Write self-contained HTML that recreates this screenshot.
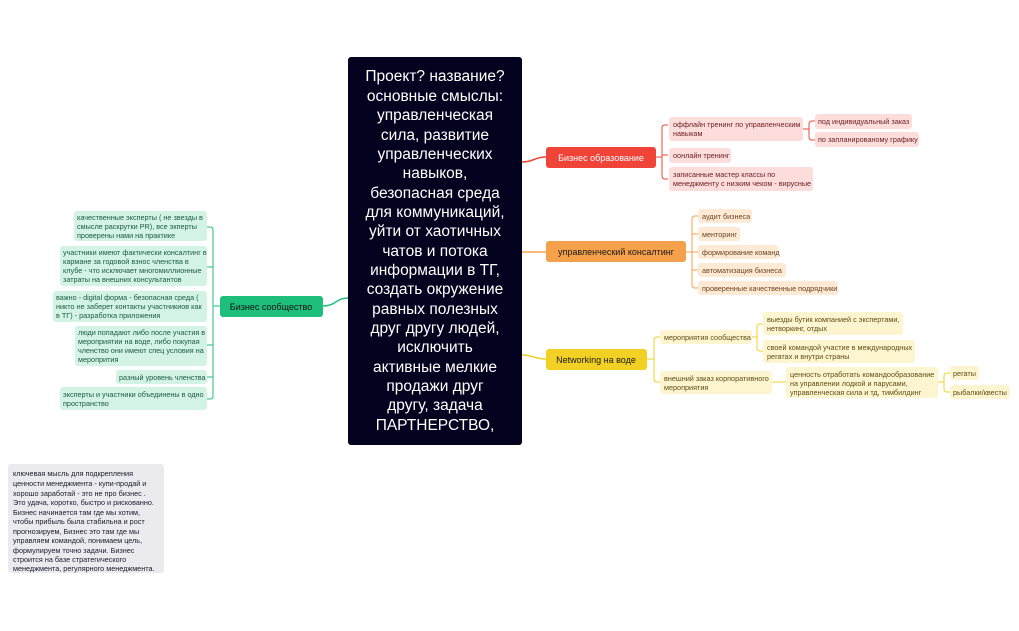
<!DOCTYPE html>
<html><head><meta charset="utf-8"><style>
html,body{margin:0;padding:0;background:#fff;width:1019px;height:631px;overflow:hidden}
svg text{font-family:"Liberation Sans","DejaVu Sans",sans-serif}
.s{font-size:7.25px}
</style></head><body>
<svg width="1019" height="631" viewBox="0 0 1019 631" xmlns="http://www.w3.org/2000/svg">
<path d="M522 162 C534 162 534 157 546 157" stroke="#f04438" stroke-width="1.5" fill="none"/>
<path d="M522 252 L546 252" stroke="#f5a04a" stroke-width="1.5" fill="none"/>
<path d="M522 355 C534 355 534 359 546 359" stroke="#f2d024" stroke-width="1.5" fill="none"/>
<path d="M348 298 C336 298 336 306 323 306" stroke="#1dbf7a" stroke-width="1.5" fill="none"/>

<rect x="348" y="57" width="174" height="388" rx="3" fill="#03021f"/>
<g fill="#fff" font-size="15.5" text-anchor="middle">
<text x="435" y="81">Проект? название?</text>
<text x="435" y="101">основные смыслы:</text>
<text x="435" y="120">управленческая</text>
<text x="435" y="140">сила, развитие</text>
<text x="435" y="159">управленческих</text>
<text x="435" y="178">навыков,</text>
<text x="435" y="198">безопасная среда</text>
<text x="435" y="217">для коммуникаций,</text>
<text x="435" y="236">уйти от хаотичных</text>
<text x="435" y="256">чатов и потока</text>
<text x="435" y="275">информации в ТГ,</text>
<text x="435" y="294">создать окружение</text>
<text x="435" y="314">равных полезных</text>
<text x="435" y="333">друг другу людей,</text>
<text x="435" y="352">исключить</text>
<text x="435" y="372">активные мелкие</text>
<text x="435" y="391">продажи друг</text>
<text x="435" y="410">другу, задача</text>
<text x="435" y="430">ПАРТНЕРСТВО,</text>
</g>

<rect x="546" y="147" width="110" height="21" rx="3" fill="#f04438"/>
<text x="601" y="161" fill="#fff" font-size="9" text-anchor="middle">Бизнес образование</text>
<path d="M656 157 H662 M668 125 H665 Q662 125 662 128 V176 Q662 179 665 179 H668 M662 155 H668" stroke="#f04438" stroke-width="1" fill="none"/>
<rect x="669" y="117" width="134" height="24" rx="3" fill="#fddcdc"/>
<text class="s" fill="#6b2222" x="673" y="127">оффлайн тренинг по управленческим</text>
<text class="s" fill="#6b2222" x="673" y="136">навыкам</text>
<rect x="669" y="148" width="62" height="15" rx="3" fill="#fddcdc"/>
<text class="s" fill="#6b2222" x="673" y="158">оонлайн тренинг</text>
<rect x="669" y="167" width="144" height="24" rx="3" fill="#fddcdc"/>
<text class="s" fill="#6b2222" x="673" y="177">записанные мастер классы по</text>
<text class="s" fill="#6b2222" x="673" y="186">менеджменту с низким чеком - вирусные</text>
<path d="M803 129 H809 M815 121 H812 Q809 121 809 124 V137 Q809 140 812 140 H815" stroke="#f04438" stroke-width="1" fill="none"/>
<rect x="815" y="114" width="97" height="15" rx="3" fill="#fddcdc"/>
<text class="s" fill="#6b2222" x="818" y="124">под индивидуальный заказ</text>
<rect x="815" y="132" width="104" height="15" rx="3" fill="#fddcdc"/>
<text class="s" fill="#6b2222" x="818" y="142">по запланированому графику</text>

<rect x="546" y="241" width="140" height="21" rx="3" fill="#f5a04a"/>
<text x="616" y="255" fill="#1a1a1a" font-size="9" text-anchor="middle">управленческий консалтинг</text>
<path d="M686 252 H692 M698 216 H695 Q692 216 692 219 V285 Q692 288 695 288 H698 M692 234 H698 M692 252 H698 M692 270 H698" stroke="#f5a04a" stroke-width="1" fill="none"/>
<rect x="698" y="209" width="54" height="14" rx="3" fill="#fde9d4"/><text class="s" fill="#6b4422" x="702" y="219">аудит бизнеса</text>
<rect x="698" y="227" width="42" height="14" rx="3" fill="#fde9d4"/><text class="s" fill="#6b4422" x="702" y="237">менторинг</text>
<rect x="698" y="245" width="80" height="14" rx="3" fill="#fde9d4"/><text class="s" fill="#6b4422" x="702" y="255">формирование команд</text>
<rect x="698" y="263" width="88" height="14" rx="3" fill="#fde9d4"/><text class="s" fill="#6b4422" x="702" y="273">автоматизация бизнеса</text>
<rect x="698" y="281" width="140" height="14" rx="3" fill="#fde9d4"/><text class="s" fill="#6b4422" x="702" y="291">проверенные качественные подрядчики</text>

<rect x="546" y="349" width="101" height="21" rx="3" fill="#f2d024"/>
<text x="596" y="363" fill="#1a1a1a" font-size="9" text-anchor="middle">Networking на воде</text>
<path d="M647 359 H654 M660 337 H657 Q654 337 654 340 V379 Q654 382 657 382 H660" stroke="#f2d024" stroke-width="1" fill="none"/>
<rect x="660" y="330" width="92" height="14" rx="3" fill="#fdf4d0"/><text class="s" fill="#5c4f17" x="664" y="340">мероприятия сообщества</text>
<rect x="660" y="371" width="112" height="23" rx="3" fill="#fdf4d0"/><text class="s" fill="#5c4f17" x="664" y="381">внешний заказ корпоративного</text><text class="s" fill="#5c4f17" x="664" y="390">мероприятия</text>
<path d="M752 337 H757 M763 324 H760 Q757 324 757 327 V348 Q757 351 760 351 H763" stroke="#f2d024" stroke-width="1" fill="none"/>
<rect x="763" y="312" width="140" height="23" rx="3" fill="#fdf4d0"/><text class="s" fill="#5c4f17" x="767" y="322">выезды бутик компанией с экспертами,</text><text class="s" fill="#5c4f17" x="767" y="331">нетворкинг, отдых</text>
<rect x="763" y="340" width="152" height="23" rx="3" fill="#fdf4d0"/><text class="s" fill="#5c4f17" x="767" y="350">своей командой участие в международных</text><text class="s" fill="#5c4f17" x="767" y="359">регатах и внутри страны</text>
<path d="M772 382 H786" stroke="#f2d024" stroke-width="1"/>
<rect x="786" y="367" width="152" height="31" rx="3" fill="#fdf4d0"/>
<text class="s" fill="#5c4f17" x="790" y="377">ценность отработать командообразование</text>
<text class="s" fill="#5c4f17" x="790" y="386">на управлении лодкой и парусами,</text>
<text class="s" fill="#5c4f17" x="790" y="395">управленческая сила и тд, тимбилдинг</text>
<path d="M938 382 H944 M950 373 H947 Q944 373 944 376 V389 Q944 392 947 392 H950" stroke="#f2d024" stroke-width="1" fill="none"/>
<rect x="950" y="366" width="29" height="14" rx="3" fill="#fdf4d0"/><text class="s" fill="#5c4f17" x="953" y="376">регаты</text>
<rect x="950" y="385" width="60" height="14" rx="3" fill="#fdf4d0"/><text class="s" fill="#5c4f17" x="953" y="395">рыбалки/квесты</text>

<rect x="220" y="296" width="103" height="21" rx="3" fill="#1dbf7a"/>
<text x="271" y="310" fill="#111" font-size="9" text-anchor="middle">Бизнес сообщество</text>
<path d="M220 306 H213 M207 227 H210 Q213 227 213 230 V396 Q213 399 210 399 H207 M213 267 H207 M213 345 H207 M213 377 H207" stroke="#1dbf7a" stroke-width="1" fill="none"/>
<rect x="74" y="211" width="133" height="30" rx="3" fill="#d3f3e5"/>
<text class="s" fill="#1c5a40" x="77" y="220">качественные эксперты ( не звезды в</text>
<text class="s" fill="#1c5a40" x="77" y="229">смысле раскрутки PR), все экперты</text>
<text class="s" fill="#1c5a40" x="77" y="238">проверены нами на практике</text>
<rect x="60" y="246" width="147" height="40" rx="3" fill="#d3f3e5"/>
<text class="s" fill="#1c5a40" x="63" y="255">участники имеют фактически консалтинг в</text>
<text class="s" fill="#1c5a40" x="63" y="264">кармане за годовой взнос членства в</text>
<text class="s" fill="#1c5a40" x="63" y="273">клубе - что исключает многомиллионные</text>
<text class="s" fill="#1c5a40" x="63" y="282">затраты на внешних консультантов</text>
<rect x="53" y="291" width="154" height="31" rx="3" fill="#d3f3e5"/>
<text class="s" fill="#1c5a40" x="56" y="300">важно - digital форма - безопасная среда (</text>
<text class="s" fill="#1c5a40" x="56" y="309">никто не заберет контакты участникиов как</text>
<text class="s" fill="#1c5a40" x="56" y="318">в ТГ) - разработка приложения</text>
<rect x="75" y="326" width="132" height="40" rx="3" fill="#d3f3e5"/>
<text class="s" fill="#1c5a40" x="78" y="335">люди попадают либо после участия в</text>
<text class="s" fill="#1c5a40" x="78" y="344">мероприятии на воде, либо покупая</text>
<text class="s" fill="#1c5a40" x="78" y="353">членство они имеют спец условия на</text>
<text class="s" fill="#1c5a40" x="78" y="362">меропрития</text>
<rect x="116" y="370" width="91" height="14" rx="3" fill="#d3f3e5"/>
<text class="s" fill="#1c5a40" x="119" y="380">разный уровень членства</text>
<rect x="60" y="387" width="147" height="23" rx="3" fill="#d3f3e5"/>
<text class="s" fill="#1c5a40" x="63" y="397">эксперты и участники объединены в одно</text>
<text class="s" fill="#1c5a40" x="63" y="406">пространство</text>

<rect x="8" y="464" width="156" height="109" rx="3" fill="#ebebef"/>
<g class="s" fill="#1a1a2a">
<text x="13" y="476">ключевая мысль для подкрепления</text>
<text x="13" y="486">ценности менеджмента - купи-продай и</text>
<text x="13" y="496">хорошо заработай - это не про бизнес .</text>
<text x="13" y="505">Это удача, коротко, быстро и рискованно.</text>
<text x="13" y="515">Бизнес начинается там где мы хотим,</text>
<text x="13" y="524">чтобы прибыль была стабильна и рост</text>
<text x="13" y="534">прогнозируем, Бизнес это там где мы</text>
<text x="13" y="543">управляем командой, понимаем цель,</text>
<text x="13" y="553">формулируем точно задачи. Бизнес</text>
<text x="13" y="562">строится на базе стратегического</text>
<text x="13" y="571">менеджмента, регулярного менеджмента.</text>
</g>
</svg>
</body></html>
